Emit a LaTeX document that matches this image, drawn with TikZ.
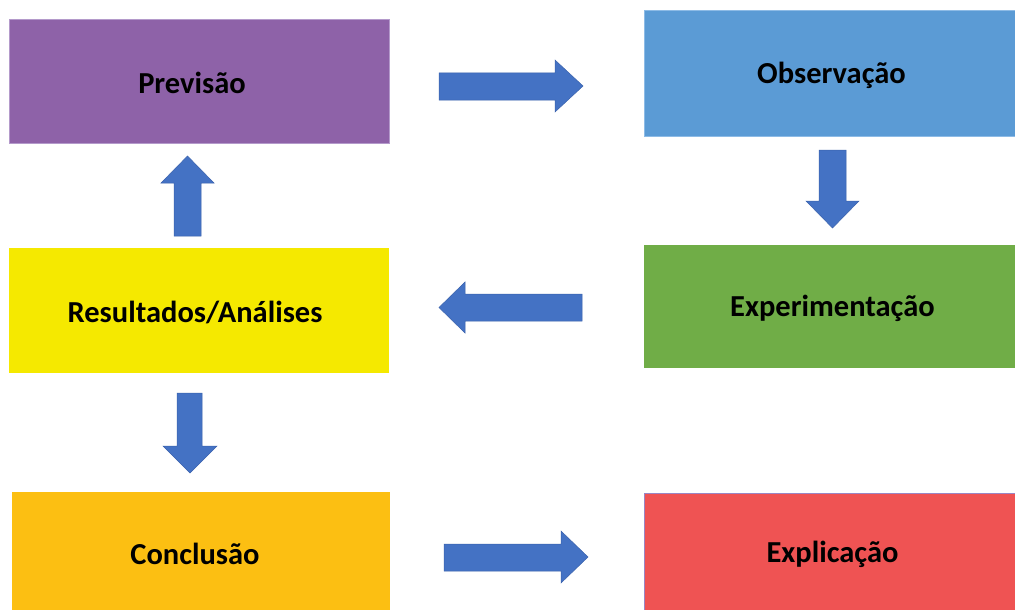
\documentclass[tikz,border=0pt]{standalone}
\usepackage{fontspec}
\setmainfont{Carlito}
\definecolor{cpurple}{HTML}{8E62A8}
\definecolor{cpurpleedge}{HTML}{B49ACB}
\definecolor{cblue}{HTML}{5B9BD5}
\definecolor{cblueedge}{HTML}{8DBBE6}
\definecolor{cyellow}{HTML}{F5E900}
\definecolor{cgreen}{HTML}{70AD47}
\definecolor{corange}{HTML}{FCBF12}
\definecolor{cred}{HTML}{EF5353}
\definecolor{credge}{HTML}{9A86C4}
\definecolor{arrowblue}{HTML}{4472C4}
\definecolor{arrowedge}{HTML}{3A62AC}
\begin{document}
\begin{tikzpicture}[x=1pt,y=-1pt,
  stagebox/.style={rectangle, inner sep=0pt, outer sep=0pt, anchor=north west, line width=0.6pt},
  stagelabel/.style={inner sep=0pt, font=\fontsize{30.5}{36}\selectfont\bfseries, text=black},
  blockarrow/.style={fill=arrowblue, draw=arrowedge, line width=0.5pt, line join=miter}]
\useasboundingbox (0,0) rectangle (1015,610);
\fill[white] (0,0) rectangle (1015,610);
% stage boxes
\node[stagebox, fill=cpurple, draw=cpurpleedge, minimum width=380pt, minimum height=124pt] (prev) at (9,19) {};
\node[stagebox, fill=cblue, draw=cblueedge, minimum width=372pt, minimum height=126pt] (obs) at (644,10) {};
\node[stagebox, fill=cyellow, minimum width=380pt, minimum height=125pt] (res) at (9,248) {};
\node[stagebox, fill=cgreen, minimum width=372pt, minimum height=123pt] (expe) at (644,245) {};
\node[stagebox, fill=corange, minimum width=378pt, minimum height=119pt] (conc) at (12,492) {};
\node[stagebox, fill=cred, draw=credge, minimum width=372pt, minimum height=118pt] (expl) at (644,493) {};
% labels
\node[stagelabel] (prevt) at ([shift={(-7,2)}]prev.center) {Previsão};
\node[stagelabel] (obst) at ([shift={(1.5,2)}]obs.center) {Observação};
\node[stagelabel] (rest) at ([shift={(-4,2)}]res.center) {Resultados/Análises};
\node[stagelabel] (expet) at ([shift={(2.5,2)}]expe.center) {Experimentação};
\node[stagelabel] (conct) at ([shift={(-6,2)}]conc.center) {Conclusão};
\node[stagelabel] (explt) at ([shift={(2.5,2)}]expl.center) {Explicação};
% block arrows
% Previsão -> Observação
\draw[blockarrow] (439,73) -- (555,73) -- (555,60) -- (583,86) -- (555,112) -- (555,100) -- (439,100) -- cycle;
% Observação -> Experimentação
\draw[blockarrow] (819,150) -- (846,150) -- (846,201) -- (859,201) -- (832.5,228) -- (806,201) -- (819,201) -- cycle;
% Experimentação -> Resultados
\draw[blockarrow] (582,294) -- (465,294) -- (465,282) -- (439,307.5) -- (465,333) -- (465,321) -- (582,321) -- cycle;
% Resultados -> Previsão
\draw[blockarrow] (174,236) -- (174,183) -- (161,183) -- (187.5,156) -- (214,183) -- (201,183) -- (201,236) -- cycle;
% Resultados -> Conclusão
\draw[blockarrow] (177,393) -- (202,393) -- (202,446) -- (217,446) -- (190,473) -- (163,446) -- (177,446) -- cycle;
% Conclusão -> Explicação
\draw[blockarrow] (444,544) -- (561,544) -- (561,531) -- (588,557) -- (561,583) -- (561,571) -- (444,571) -- cycle;
\end{tikzpicture}
\end{document}
